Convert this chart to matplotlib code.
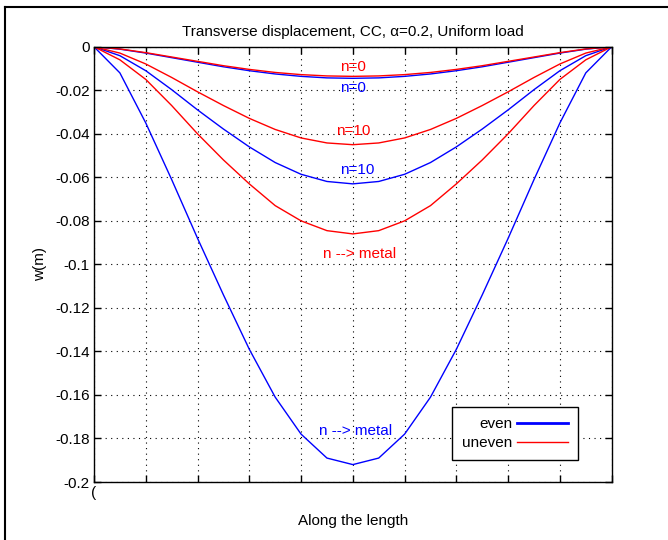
import numpy as np
import matplotlib.pyplot as plt
from matplotlib.lines import Line2D

plt.rcParams['font.family'] = ['Liberation Sans', 'DejaVu Sans']

# positions along the beam (fraction of length)
x = [0.0, 0.05, 0.1, 0.15, 0.2, 0.25, 0.3, 0.35, 0.4, 0.45, 0.5,
     0.55, 0.6, 0.65, 0.7, 0.75, 0.8, 0.85, 0.9, 0.95, 1.0]

# even distribution (blue)
even_n0 = [0, -0.0011, -0.0029, -0.0050, -0.0071, -0.0092, -0.0110, -0.0125, -0.0136, -0.0143, -0.0145,
           -0.0143, -0.0136, -0.0125, -0.0110, -0.0092, -0.0071, -0.0050, -0.0029, -0.0011, 0]
even_n10 = [0, -0.0041, -0.0110, -0.0197, -0.0290, -0.0378, -0.0460, -0.0532, -0.0586, -0.0619, -0.0630,
            -0.0619, -0.0586, -0.0532, -0.0460, -0.0378, -0.0290, -0.0197, -0.0110, -0.0041, 0]
even_metal = [0, -0.012, -0.035, -0.061, -0.088, -0.114, -0.139, -0.161, -0.178, -0.189, -0.192,
              -0.189, -0.178, -0.161, -0.139, -0.114, -0.088, -0.061, -0.035, -0.012, 0]

# uneven distribution (red)
uneven_n0 = [0, -0.0010, -0.0027, -0.0047, -0.0067, -0.0087, -0.0104, -0.0118, -0.0128, -0.0134, -0.0136,
             -0.0134, -0.0128, -0.0118, -0.0104, -0.0087, -0.0067, -0.0047, -0.0027, -0.0010, 0]
uneven_n10 = [0, -0.0029, -0.0079, -0.0141, -0.0207, -0.0270, -0.0329, -0.0380, -0.0419, -0.0442, -0.0450,
              -0.0442, -0.0419, -0.0380, -0.0329, -0.0270, -0.0207, -0.0141, -0.0079, -0.0029, 0]
uneven_metal = [0, -0.006, -0.015, -0.027, -0.040, -0.052, -0.063, -0.073, -0.080, -0.0845, -0.086,
                -0.0845, -0.080, -0.073, -0.063, -0.052, -0.040, -0.027, -0.015, -0.006, 0]

yticks = np.arange(0, -0.2001, -0.02)
ytick_labels = ['0', '-0.02', '-0.04', '-0.06', '-0.08', '-0.1', '-0.12', '-0.14', '-0.16', '-0.18', '-0.2']
xticks = np.arange(0, 1.0001, 0.1)

fig = plt.figure(figsize=(6.68, 5.40), dpi=100)
ax = fig.add_axes([0.1407, 0.1074, 0.775, 0.806])

blue = '#0000ff'
red = '#ff0000'
ax.plot(x, even_n0, color=blue, lw=1)
ax.plot(x, uneven_n0, color=red, lw=1)
ax.plot(x, even_n10, color=blue, lw=1)
ax.plot(x, uneven_n10, color=red, lw=1)
ax.plot(x, even_metal, color=blue, lw=1)
ax.plot(x, uneven_metal, color=red, lw=1)

fs = 11
# curve labels
ax.text(0.5, -0.0095, 'n=0', color=red, ha='center', va='center', fontsize=fs)
ax.text(0.5, -0.0190, 'n=0', color=blue, ha='center', va='center', fontsize=fs)
ax.text(0.5, -0.0385, 'n=10', color=red, ha='center', va='center', fontsize=fs)
ax.text(0.508, -0.0565, 'n=10', color=blue, ha='center', va='center', fontsize=fs)
ax.text(0.513, -0.0950, 'n --> metal', color=red, ha='center', va='center', fontsize=fs)
ax.text(0.505, -0.1765, 'n --> metal', color=blue, ha='center', va='center', fontsize=fs)

ax.set_xlim(0, 1)
ax.set_ylim(-0.2, 0)
ax.set_xticks(xticks)
ax.set_xticklabels(['('] + [''] * (len(xticks) - 1))
ax.set_yticks(yticks)
ax.set_yticklabels(ytick_labels)
ax.tick_params(direction='in', length=5, width=1, top=True, right=True, labelsize=fs, pad=3)
ax.grid(True, color='black', linestyle=(0, (1, 4)), linewidth=0.8)
for s in ax.spines.values():
    s.set_linewidth(1)

ax.set_title('Transverse displacement, CC, \u03b1=0.2, Uniform load', fontsize=fs, pad=8)
ax.set_xlabel('Along the length', fontsize=fs, labelpad=10)
ax.set_ylabel('w(m)', fontsize=fs, labelpad=6)

handles = [Line2D([], [], color=blue, lw=2), Line2D([], [], color=red, lw=1)]
leg = ax.legend(handles, ['even', 'uneven'], loc='lower right', bbox_to_anchor=(0.934, 0.05),
                borderaxespad=0, markerfirst=False, fancybox=False, framealpha=1, edgecolor='black',
                fontsize=fs, handlelength=3.3, handletextpad=0.3, borderpad=0.65, labelspacing=0.35)
leg.get_frame().set_linewidth(1)

# outer frame of the original figure window
fig.add_artist(Line2D([5 / 668, 5 / 668], [0, 1 - 7 / 540], color='black', lw=1.5))
fig.add_artist(Line2D([5 / 668, 1], [1 - 7 / 540, 1 - 7 / 540], color='black', lw=1.5))

fig.savefig('out.png', dpi=100)
